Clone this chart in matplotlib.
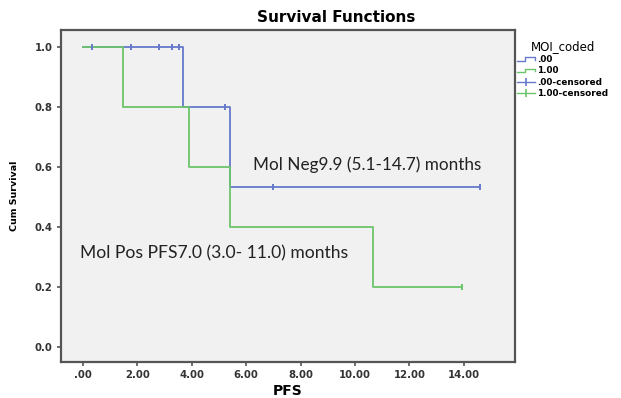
import matplotlib
matplotlib.use("Agg")
import matplotlib.pyplot as plt
from matplotlib.lines import Line2D
from matplotlib.legend_handler import HandlerBase

# Kaplan-Meier steps, MOI_coded = .00 (blue) and 1.00 (green)
neg_t = [0.0, 3.68, 5.40, 14.6]
neg_s = [1.0, 0.80, 0.533, 0.533]
neg_cens_t = [0.33, 1.76, 2.79, 3.27, 3.53, 5.22, 7.0, 14.6]
neg_cens_s = [1.0, 1.0, 1.0, 1.0, 1.0, 0.80, 0.533, 0.533]

pos_t = [0.0, 1.47, 3.90, 5.40, 10.66, 13.93]
pos_s = [1.0, 0.80, 0.60, 0.40, 0.20, 0.20]
pos_cens_t = [13.93]
pos_cens_s = [0.20]

x_ticks = [0, 2, 4, 6, 8, 10, 12, 14]
x_labels = [".00", "2.00", "4.00", "6.00", "8.00", "10.00", "12.00", "14.00"]
y_ticks = [0.0, 0.2, 0.4, 0.6, 0.8, 1.0]
y_labels = ["0.0", "0.2", "0.4", "0.6", "0.8", "1.0"]

BLUE = "#6679cc"
GREEN = "#6cc46c"
SPINE = "#555555"


class StepHandler(HandlerBase):
    # little step glyph like the SPSS legend
    def create_artists(self, legend, orig, xd, yd, w, h, fs, trans):
        xs = [xd, xd + 0.45 * w, xd + 0.45 * w, xd + w, xd + w]
        ys = [yd + 0.2 * h, yd + 0.2 * h, yd + 0.8 * h, yd + 0.8 * h, yd + 0.4 * h]
        ln = Line2D(xs, ys, color=orig.get_color(), lw=1.0, transform=trans)
        return [ln]


fig = plt.figure(figsize=(6.21, 3.98), dpi=100)
ax = fig.add_axes([0.0982, 0.0905, 0.731, 0.834])
ax.set_facecolor("#f0f1f0")

l_neg, = ax.step(neg_t, neg_s, where="post", color=BLUE, lw=1.3)
l_pos, = ax.step(pos_t, pos_s, where="post", color=GREEN, lw=1.3)
ax.plot(neg_cens_t, neg_cens_s, ls="none", marker="|", ms=5, mew=1.4, color=BLUE)
ax.plot(pos_cens_t, pos_cens_s, ls="none", marker="|", ms=5, mew=1.4, color=GREEN)

ax.set_xlim(-0.81, 15.88)
ax.set_ylim(-0.05, 1.057)
ax.set_xticks(x_ticks)
ax.set_xticklabels(x_labels)
ax.set_yticks(y_ticks)
ax.set_yticklabels(y_labels)
ax.tick_params(length=3, width=1.2, color=SPINE, labelsize=7.3, pad=3)
for lab in ax.get_xticklabels() + ax.get_yticklabels():
    lab.set_fontweight("bold")
    lab.set_color("#333333")
for sp in ax.spines.values():
    sp.set_color(SPINE)
    sp.set_linewidth(1.6)

ax.set_xlabel("PFS", fontsize=10, fontweight="bold", labelpad=3)
ax.set_ylabel("Cum Survival", fontsize=6.8, fontweight="bold", labelpad=11)

ax.text(6.25, 0.607, "Mol Neg9.9 (5.1-14.7) months", fontsize=12.3, family="Lato",
        color="#222222", va="center")
ax.text(-0.11, 0.313, "Mol Pos PFS7.0 (3.0- 11.0) months", fontsize=12.6, family="Lato",
        color="#222222", va="center")

fig.text(0.541, 0.955, "Survival Functions", fontsize=11, fontweight="bold",
         ha="center", va="center")

# legend proxies: censored entries show a line with a tick through it
h_cens_neg = Line2D([], [], color=BLUE, lw=1.0, marker="|", ms=6, mew=1.2)
h_cens_pos = Line2D([], [], color=GREEN, lw=1.0, marker="|", ms=6, mew=1.2)

leg = fig.legend([l_neg, l_pos, h_cens_neg, h_cens_pos],
                 [".00", "1.00", ".00-censored", "1.00-censored"],
                 handler_map={l_neg: StepHandler(), l_pos: StepHandler()},
                 title="MOI_coded", loc="upper left",
                 bbox_to_anchor=(0.823, 0.915), frameon=False,
                 fontsize=6.4, title_fontsize=8.5, handlelength=2.0,
                 handletextpad=0.2, labelspacing=0.25, borderpad=0.2,
                 numpoints=1)
for t in leg.get_texts():
    t.set_fontweight("bold")
leg._legend_box.align = "center"

fig.savefig("out.png", dpi=100)
